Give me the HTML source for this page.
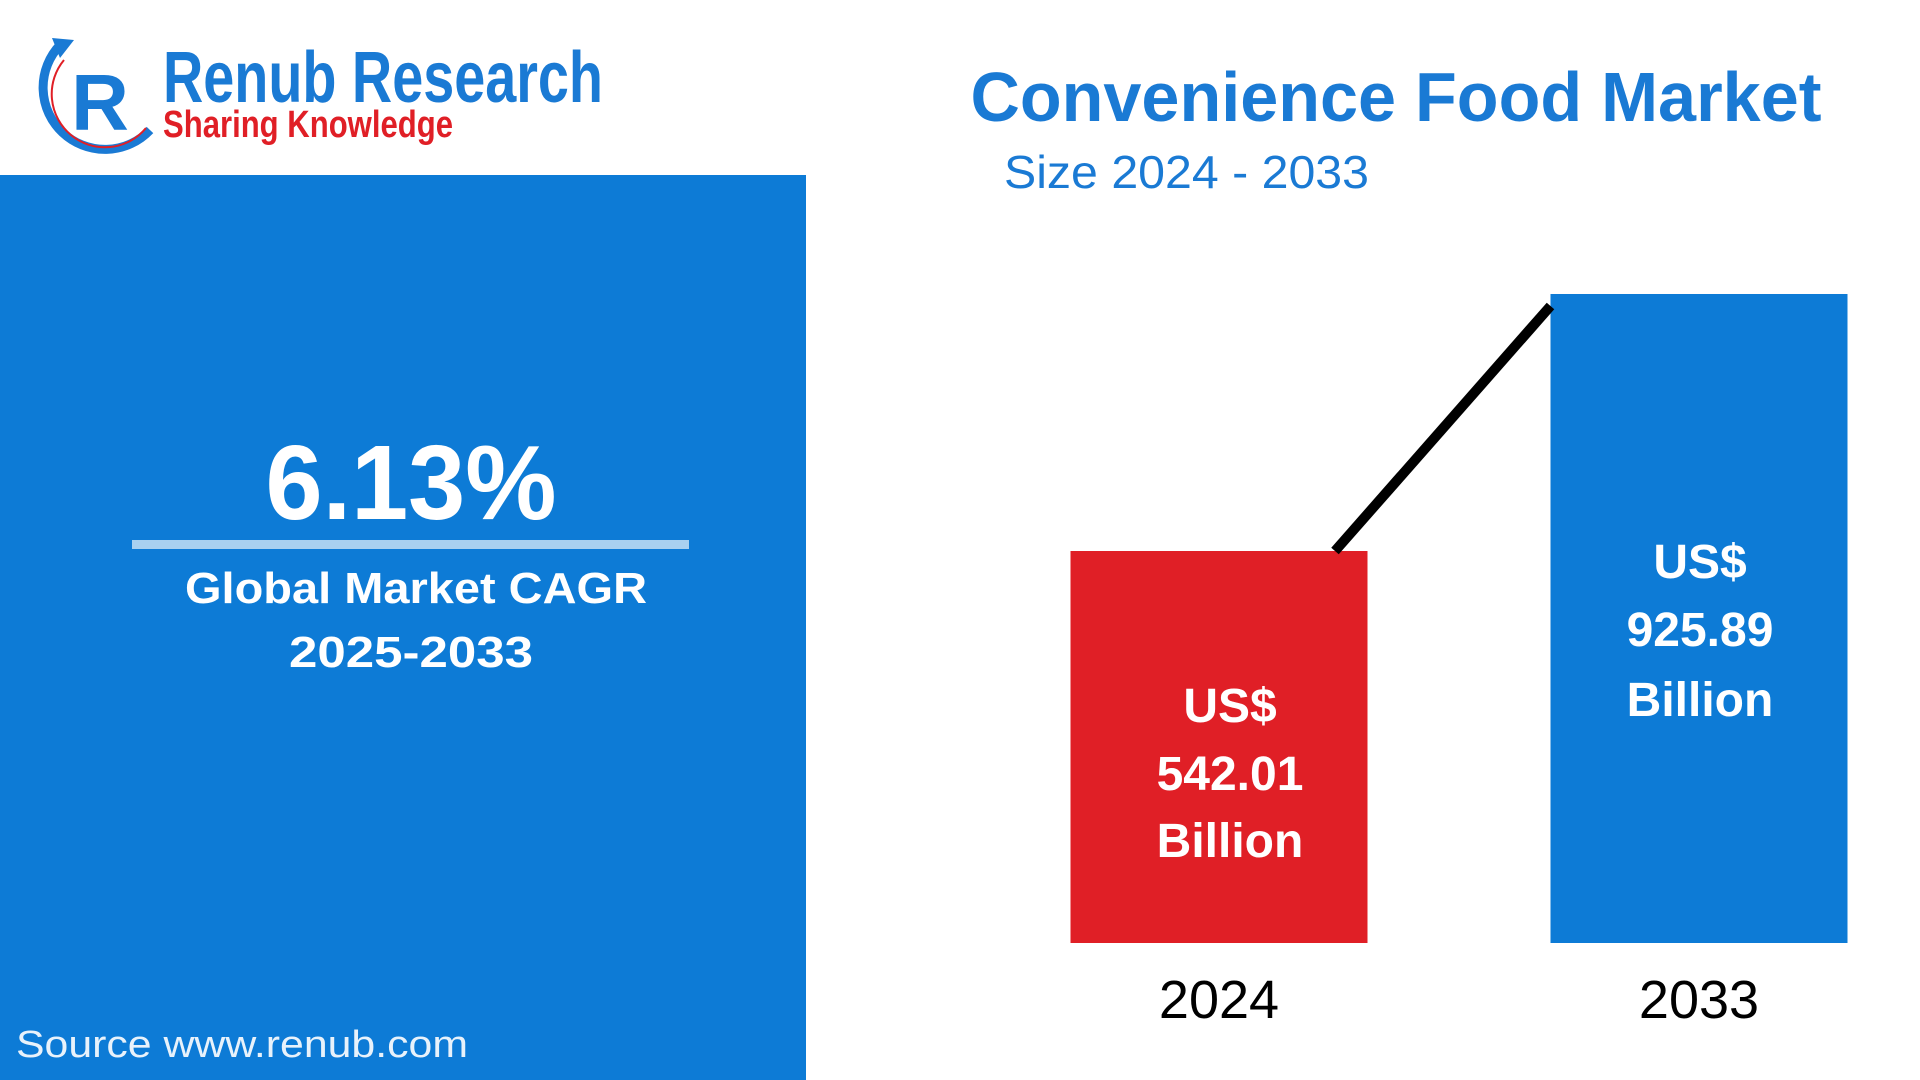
<!DOCTYPE html>
<html><head><meta charset="utf-8"><style>
html,body{margin:0;padding:0;width:1920px;height:1080px;overflow:hidden;background:#fff;font-family:"Liberation Sans",sans-serif}
#panel{position:absolute;left:0;top:175px;width:806px;height:905px;background:#0d7bd6}
</style></head><body>
<div id="panel"></div>
<svg width="1920" height="1080" style="position:absolute;left:0;top:0">
  <g>
    <path d="M60 45 A58 58 0 1 0 150 130" fill="none" stroke="#1a7ad4" stroke-width="9"/>
    <path d="M64 60 A50 50 0 1 0 146 128" fill="none" stroke="#e01f26" stroke-width="2"/>
    <polygon points="52,38 74,40 60,58" fill="#1a7ad4"/>
    <text x="100" y="130" font-family="Liberation Sans" font-weight="bold" font-size="80" fill="#1a7ad4" text-anchor="middle">R</text>
    <text x="163" y="102" font-family="'Liberation Sans Narrow','Liberation Sans',sans-serif" font-weight="bold" font-size="72" fill="#1a7ad4" textLength="440" lengthAdjust="spacingAndGlyphs">Renub Research</text>
    <text x="163" y="137" font-family="'Liberation Sans Narrow','Liberation Sans',sans-serif" font-weight="bold" font-size="38" fill="#e01f26" textLength="290" lengthAdjust="spacingAndGlyphs">Sharing Knowledge</text>
  </g>
  <text x="1396" y="121" font-weight="bold" font-size="70" fill="#1a7ad4" text-anchor="middle" textLength="851" lengthAdjust="spacingAndGlyphs">Convenience Food Market</text>
  <text x="1004" y="188" font-size="46" fill="#1a7ad4" textLength="365" lengthAdjust="spacingAndGlyphs">Size 2024 - 2033</text>
  <text x="411" y="519" font-weight="bold" font-size="106" fill="#fff" text-anchor="middle" textLength="291" lengthAdjust="spacingAndGlyphs">6.13%</text>
  <rect x="132" y="540" width="557" height="9" fill="#a8d0f0"/>
  <text x="416" y="603" font-weight="bold" font-size="44" fill="#fff" text-anchor="middle" textLength="462" lengthAdjust="spacingAndGlyphs">Global Market CAGR</text>
  <text x="411" y="667" font-weight="bold" font-size="44" fill="#fff" text-anchor="middle" textLength="244" lengthAdjust="spacingAndGlyphs">2025-2033</text>
  <text x="16" y="1057" font-size="38" fill="#e8f2fb" textLength="452" lengthAdjust="spacingAndGlyphs">Source  www.renub.com</text>
  <g id="chart"></g>
</svg>
<script>
const categories = ["2024", "2033"];
const values = [542.01, 925.89];
const valueLabels = ["542.01", "925.89"];
const barColors = ["#e01f26", "#0d7bd6"];

const NS = "http://www.w3.org/2000/svg";
const g = document.getElementById('chart');
const baseY = 943, barW = 297;
const xCenters = [1219, 1699];
const labelShift = [11, 1];
function x(i){ return xCenters[i]; }
function y(v){ return baseY - (v + 43.5) * 0.6695; }
function mk(tag, attrs){ const e=document.createElementNS(NS,tag); for(const k in attrs) e.setAttribute(k,attrs[k]); g.appendChild(e); return e; }

categories.forEach((c,i)=>{
  const top = y(values[i]);
  const r = mk('rect',{x:x(i)-barW/2,y:top,width:barW,height:baseY-top,fill:barColors[i]});
  
  
  const lines = ["US$", valueLabels[i], "Billion"];
  const offs = i===0 ? [171,239,306] : [284,352,422];
  lines.forEach((s,j)=>{
    const t = mk('text',{x:x(i)+labelShift[i],y:top+offs[j],'font-weight':'bold','font-size':'48',fill:'#fff','text-anchor':'middle'});
    t.textContent = s;
    
    
  });
  const yl = mk('text',{x:x(i),y:1018,'font-size':'54',fill:'#000','text-anchor':'middle'});
  yl.textContent = c;
  
  
});
const ln = mk('line',{x1:x(0)+116,y1:y(values[0]),x2:x(1)-barW/2,y2:y(values[1])+12,stroke:'#000','stroke-width':'10'});


</script>
</body></html>
